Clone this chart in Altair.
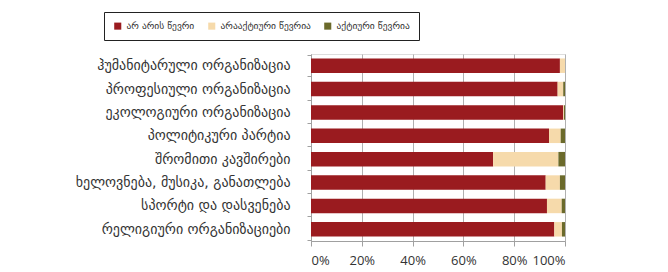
import altair as alt
import pandas as pd

categories = [
    "ჰუმანიტარული ორგანიზაცია",
    "პროფესიული ორგანიზაცია",
    "ეკოლოგიური ორგანიზაცია",
    "პოლიტიკური პარტია",
    "შრომითი კავშირები",
    "ხელოვნება, მუსიკა, განათლება",
    "სპორტი და დასვენება",
    "რელიგიური ორგანიზაციები",
]
series = ["არ არის წევრი", "არააქტიური წევრია", "აქტიური წევრია"]
not_member = [98.0, 97.1, 99.3, 93.7, 71.7, 92.4, 92.9, 95.8]
inactive = [2.0, 2.2, 0.3, 4.6, 25.7, 5.6, 5.8, 3.0]
active = [0.0, 0.7, 0.4, 1.7, 2.6, 2.0, 1.3, 1.2]
colors = ["#9A1B1F", "#F6DAAB", "#6B6A2B"]

rows = []
for i, c in enumerate(categories):
    for j, (s, vals) in enumerate(zip(series, [not_member, inactive, active])):
        rows.append({"category": c, "status": s, "value": vals[i], "order": j})
df = pd.DataFrame(rows)

chart = alt.Chart(df).mark_bar(size=14.5).encode(
    x=alt.X("value:Q", stack="normalize",
            scale=alt.Scale(domain=[0, 1], nice=False),
            axis=alt.Axis(format="%", values=[0, 0.2, 0.4, 0.6, 0.8, 1.0],
                          title=None, grid=True, gridColor="#B0B0B0",
                          domainColor="#A0A0A0", tickColor="#A0A0A0",
                          tickSize=5, labelPadding=8, labelFontSize=13,
                          labelColor="#333333", labelFont="Open Sans")),
    y=alt.Y("category:N", sort=categories, title=None,
            axis=alt.Axis(tickBand="extent", domainColor="#A0A0A0",
                          tickColor="#A0A0A0", tickSize=4, labelPadding=17,
                          labelFontSize=14, labelColor="#333333",
                          labelFont="DejaVu Sans", labelLimit=300)),
    color=alt.Color("status:N", sort=series,
                    scale=alt.Scale(domain=series, range=colors),
                    legend=alt.Legend(title=None, orient="none",
                                      direction="horizontal", columns=3,
                                      legendX=-207, legendY=-42,
                                      symbolType="square", symbolSize=50,
                                      symbolStrokeWidth=0, labelFontSize=9.5,
                                      labelColor="#333333",
                                      labelFont="DejaVu Sans",
                                      labelOffset=4,
                                      columnPadding=12, padding=9,
                                      strokeColor="#222222", fillColor="#FFFFFF")),
    order=alt.Order("order:Q", sort="ascending"),
).properties(
    width=254, height=187,
    autosize=alt.AutoSizeParams(type="none"),
    padding={"left": 303, "top": 46, "right": 95, "bottom": 31},
).configure_view(
    stroke=None
).configure(background="#FFFFFF")

chart.save("out.html", embed_options={"renderer": "svg", "actions": False})
